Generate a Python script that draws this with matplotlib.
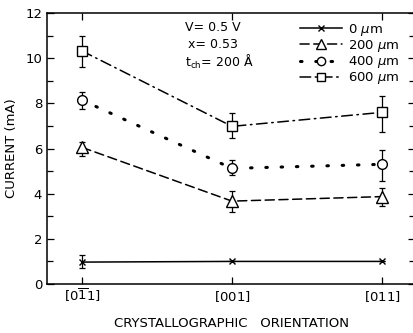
import matplotlib
matplotlib.use('Agg')
import matplotlib.pyplot as plt
from matplotlib.ticker import MultipleLocator

orient = ['$\\mathregular{[0\\overline{1}1]}$', '$\\mathregular{[001]}$', '$\\mathregular{[011]}$']
xpos = [0, 1, 2]

# current (mA) with lower / upper error bar ends
i0 = [0.97, 1.0, 1.0]
i0_lo = [0.71, 1.0, 1.0]
i0_hi = [1.28, 1.0, 1.0]

i200 = [6.05, 3.67, 3.87]
i200_lo = [5.68, 3.2, 3.46]
i200_hi = [6.3, 4.12, 4.24]

i400 = [8.14, 5.12, 5.3]
i400_lo = [7.73, 4.82, 4.57]
i400_hi = [8.5, 5.49, 5.93]

i600 = [10.32, 6.98, 7.6]
i600_lo = [9.6, 6.47, 6.74]
i600_hi = [11.0, 7.55, 8.32]

labels = ['0 $\\mu$m', '200 $\\mu$m', '400 $\\mu$m', '600 $\\mu$m']

plt.rcParams['font.family'] = 'DejaVu Sans'
fig = plt.figure(figsize=(4.13, 3.33), dpi=100)
# right spine sits just past the picture edge, as in the scan
ax = fig.add_axes([47 / 413, 49 / 333, 368 / 413, 271 / 333])

series = [
    (i0, i0_lo, i0_hi, '-', 'x', 4),
    (i200, i200_lo, i200_hi, (0, (6, 3)), '^', 8),
    (i400, i400_lo, i400_hi, (0, (0.5, 4.5)), 'o', 7),
    (i600, i600_lo, i600_hi, (0, (7, 3, 1, 3)), 's', 7),
]
handles = []
for (y, lo, hi, ls, mk, ms), lab in zip(series, labels):
    lw = 2.2 if mk == 'o' else 1.1
    ax.errorbar(xpos, y, yerr=[[a - b for a, b in zip(y, lo)], [b - a for a, b in zip(y, hi)]],
                fmt='none', ecolor='black', elinewidth=0.9, capsize=2.5, capthick=0.9)
    ax.plot(xpos, y, color='black', linestyle=ls, linewidth=lw,
            dash_capstyle='round')
    ax.plot(xpos, y, linestyle='none', marker=mk, markersize=ms,
            markerfacecolor='white', markeredgecolor='black', markeredgewidth=1.0)
    h, = ax.plot([], [], color='black', linestyle=ls, linewidth=lw, marker=mk,
                 markersize=ms - 1 if mk != 'x' else 4, markerfacecolor='white',
                 markeredgecolor='black', markeredgewidth=1.0, dash_capstyle='round')
    handles.append(h)

ax.set_xlim(-0.2333, 2.22)
ax.set_ylim(0, 12)
ax.set_xticks(xpos)
ax.set_xticklabels(orient, fontsize=9.5)
for t in ax.get_xticklabels():
    t.set_verticalalignment('baseline')
ax.yaxis.set_major_locator(MultipleLocator(2))
ax.yaxis.set_minor_locator(MultipleLocator(1))
ax.tick_params(axis='both', which='both', direction='in', top=True, right=True,
               labelsize=9.5, width=0.9)
ax.tick_params(which='major', length=5)
ax.tick_params(which='minor', length=4)
ax.tick_params(axis='x', pad=12.5)
for s in ax.spines.values():
    s.set_linewidth(1.1)

ax.set_xlabel('CRYSTALLOGRAPHIC   ORIENTATION', fontsize=9.5, va='top')
ax.xaxis.set_label_coords(0.5, -0.122)
ax.set_ylabel('CURRENT (mA)', fontsize=9.5, labelpad=5)

ax.text(0.375, 0.946, 'V= 0.5 V', transform=ax.transAxes, fontsize=9, va='center')
ax.text(0.383, 0.884, 'x= 0.53', transform=ax.transAxes, fontsize=9, va='center')
ax.text(0.375, 0.821, 't$_{\\mathregular{ch}}$= 200 $\\mathregular{\\AA}$', transform=ax.transAxes,
        fontsize=9, va='center')

ax.legend(handles, labels, loc='upper right', bbox_to_anchor=(0.99, 1.012), frameon=False,
          fontsize=9.5, handlelength=3.2, handletextpad=0.4, labelspacing=0.02,
          borderaxespad=0.5)

fig.savefig('out.png', dpi=100)
